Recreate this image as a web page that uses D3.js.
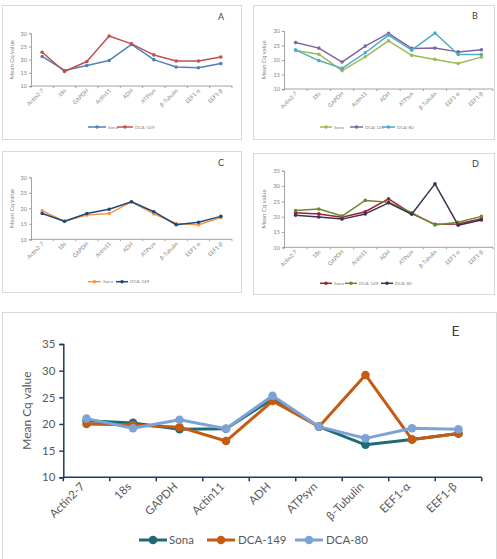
<!DOCTYPE html>
<html>
<head>
<meta charset="utf-8">
<script src="https://cdn.jsdelivr.net/npm/d3@7"></script>
<style>
  body { margin: 0; background: #fff; }
  svg { display: block; }
  text { font-family: Lato, "Open Sans", sans-serif; }
</style>
</head>
<body>
<div id="chart"></div>
<script>
// gene names on every x axis
const genes = ["Actin2-7", "18s", "GAPDH", "Actin11", "ADH", "ATPsyn", "\u03B2-Tubulin", "EEF1-\u03B1", "EEF1-\u03B2"];

// panel A
const sonaA   = [21.2, 15.9, 17.8, 19.7, 25.8, 20.0, 17.2, 16.9, 18.5];
const dca149A = [22.8, 15.5, 19.3, 29.0, 26.0, 21.8, 19.5, 19.5, 21.0];

// panel B
const sonaB   = [23.3, 22.0, 16.3, 21.1, 26.6, 21.6, 20.2, 18.8, 21.0];
const dca149B = [26.0, 24.1, 19.3, 24.8, 29.2, 24.0, 24.1, 22.8, 23.5];
const dca80B  = [23.5, 19.8, 17.1, 22.5, 28.6, 23.4, 29.3, 21.9, 21.9];

// panel C
const sonaC   = [19.2, 15.8, 17.8, 18.3, 22.1, 18.2, 15.1, 14.7, 17.0];
const dca149C = [18.3, 15.8, 18.3, 19.7, 22.1, 18.9, 14.7, 15.5, 17.4];

// panel D
const sonaD   = [21.3, 20.9, 19.8, 21.6, 25.8, 21.0, 17.5, 17.6, 19.3];
const dca149D = [22.0, 22.5, 20.2, 25.3, 24.7, 21.3, 17.3, 18.2, 20.1];
const dca80D  = [20.5, 19.9, 19.2, 20.9, 24.5, 20.8, 30.7, 17.2, 18.9];

// panel E
const sonaE   = [20.6, 20.2, 19.0, 19.1, 24.7, 19.5, 16.1, 17.1, 18.2];
const dca149E = [20.0, 19.8, 19.4, 16.8, 24.3, 19.5, 29.2, 17.1, 18.2];
const dca80E  = [21.0, 19.2, 20.8, 19.1, 25.3, 19.5, 17.3, 19.2, 19.0];

const yTicks30 = [10, 15, 20, 25, 30];
const yTicks35 = [10, 15, 20, 25, 30, 35];

const W = 497, H = 559;
const svg = d3.select("#chart").append("svg").attr("width", W).attr("height", H);

function drawPanel(p) {
  const g = svg.append("g");

  // frame
  g.append("rect")
    .attr("x", p.frame[0] + 0.5).attr("y", p.frame[1] + 0.5)
    .attr("width", p.frame[2] - p.frame[0]).attr("height", p.frame[3] - p.frame[1])
    .attr("fill", "#fff").attr("stroke", "#d9d9d9").attr("stroke-width", 1);

  const x = d3.scaleBand().domain(genes).range(p.xr);
  const y = d3.scaleLinear().domain([10, d3.max(p.ticks)]).range(p.yr);
  const cx = (d) => x(d) + x.bandwidth() / 2;

  // y axis
  const yAxis = d3.axisLeft(y).tickValues(p.ticks).tickSize(p.tick).tickPadding(p.pad);
  const ya = g.append("g").attr("transform", `translate(${p.xr[0]},0)`).call(yAxis);
  ya.select(".domain").attr("stroke", p.axisColor).attr("stroke-width", p.axisW);
  ya.selectAll(".tick line").attr("stroke", p.axisColor).attr("stroke-width", p.axisW);
  ya.selectAll(".tick text").attr("fill", p.textColor).style("font-size", p.fs + "px");

  // x axis: ticks at band edges
  const edges = genes.map((d) => x(d)).concat([p.xr[1]]);
  const xa = g.append("g").attr("transform", `translate(0,${p.yr[0]})`);
  xa.append("line").attr("x1", p.xr[0]).attr("x2", p.xr[1])
    .attr("stroke", p.axisColor).attr("stroke-width", p.axisW);
  xa.selectAll(".xt").data(edges).enter().append("line")
    .attr("x1", (d) => d).attr("x2", (d) => d).attr("y1", 0).attr("y2", p.tick)
    .attr("stroke", p.axisColor).attr("stroke-width", p.axisW);
  xa.selectAll(".xl").data(genes).enter().append("text")
    .attr("transform", (d) => `translate(${cx(d) + p.lx},${p.ly}) rotate(-45)`)
    .attr("text-anchor", "end")
    .attr("fill", p.textColor)
    .style("font-size", p.fs + "px")
    .text((d) => d);

  // y title
  g.append("text")
    .attr("transform", `translate(${p.titleX},${(p.yr[0] + p.yr[1]) / 2}) rotate(-90)`)
    .attr("text-anchor", "middle")
    .attr("fill", p.textColor)
    .style("font-size", p.tfs + "px")
    .text("Mean Cq value");

  // panel letter
  g.append("text").attr("x", p.label[0]).attr("y", p.label[1])
    .attr("fill", "#404040").style("font-size", p.labelSize + "px")
    .text(p.letter);

  // series
  const line = d3.line().x((d, i) => cx(genes[i])).y((d) => y(d));
  p.series.forEach((s) => {
    g.append("path").datum(s.values)
      .attr("d", line).attr("fill", "none")
      .attr("stroke", s.color).attr("stroke-width", p.lw)
      .attr("stroke-linejoin", "round");
    g.selectAll(null).data(s.values).enter().append("circle")
      .attr("cx", (d, i) => cx(genes[i])).attr("cy", (d) => y(d))
      .attr("r", p.r).attr("fill", s.color);
  });

  // legend
  p.series.forEach((s, i) => {
    const it = p.legend.items[i];
    g.append("line").attr("x1", it[0]).attr("x2", it[1])
      .attr("y1", p.legend.y).attr("y2", p.legend.y)
      .attr("stroke", s.color).attr("stroke-width", p.lw);
    g.append("circle").attr("cx", (it[0] + it[1]) / 2).attr("cy", p.legend.y)
      .attr("r", p.r).attr("fill", s.color);
    g.append("text").attr("x", it[2]).attr("y", p.legend.y)
      .attr("dy", "0.35em").attr("fill", p.textColor)
      .style("font-size", p.lfs + "px")
      .text(s.name);
  });
}

const small = {
  tick: 2, pad: 2, axisColor: "#8c8c8c", axisW: 0.8, textColor: "#7f7f7f",
  fs: 5.5, tfs: 6, lfs: 4.6, lw: 1.5, r: 1.8, labelSize: 9, lx: 2, ly: 5
};

drawPanel(Object.assign({}, small, {
  frame: [2, 5, 241, 139], xr: [31, 232], yr: [86, 33.3], ticks: yTicks30,
  titleX: 14, letter: "A", label: [218, 20],
  series: [
    { name: "Sona", values: sonaA, color: "#4f81bd" },
    { name: "DCA-149", values: dca149A, color: "#c0504d" }
  ],
  legend: { y: 127, items: [[88, 106, 108], [117, 133, 135]] }
}));

drawPanel(Object.assign({}, small, {
  frame: [253, 5, 494, 139], xr: [284, 493], yr: [89, 31], ticks: yTicks30,
  titleX: 266, letter: "B", label: [472, 19],
  series: [
    { name: "Sona", values: sonaB, color: "#9bbb59" },
    { name: "DCA-149", values: dca149B, color: "#8064a2" },
    { name: "DCA-80", values: dca80B, color: "#4bacc6" }
  ],
  legend: { y: 127, items: [[320, 332, 334], [350, 363, 365], [382, 395, 397]] }
}));

drawPanel(Object.assign({}, small, {
  frame: [2, 151, 241, 292], xr: [31, 232], yr: [239.3, 177.3], ticks: yTicks30,
  titleX: 14, letter: "C", label: [218, 165.5],
  series: [
    { name: "Sona", values: sonaC, color: "#f79646" },
    { name: "DCA-149", values: dca149C, color: "#1f497d" }
  ],
  legend: { y: 281.7, items: [[88, 101, 103], [116, 128, 130]] }
}));

drawPanel(Object.assign({}, small, {
  frame: [253, 153, 494, 294], xr: [284, 493], yr: [247.3, 170.7], ticks: yTicks35,
  titleX: 266, letter: "D", label: [472, 166.5],
  series: [
    { name: "Sona", values: sonaD, color: "#9b2335" },
    { name: "DCA-149", values: dca149D, color: "#6b8a2e" },
    { name: "DCA-80", values: dca80D, color: "#3f3151" }
  ],
  legend: { y: 283.3, items: [[320, 332, 334], [345, 357, 359], [381, 393, 395]] }
}));

drawPanel({
  frame: [2, 312, 496, 560], xr: [63.3, 481.7], yr: [477.3, 344], ticks: yTicks35,
  tick: 4, pad: 4, axisColor: "#1f3864", axisW: 1.5, textColor: "#595959",
  fs: 11.5, tfs: 12, lfs: 11.5, lw: 3, r: 4.3, labelSize: 14, lx: -1, ly: 10,
  titleX: 31, letter: "E", label: [451.5, 336],
  series: [
    { name: "Sona", values: sonaE, color: "#1f6b75" },
    { name: "DCA-149", values: dca149E, color: "#c55a11" },
    { name: "DCA-80", values: dca80E, color: "#7ba3d6" }
  ],
  legend: { y: 540, items: [[139, 167, 169], [207, 235, 238], [295, 323, 326]] }
});
</script>
</body>
</html>
